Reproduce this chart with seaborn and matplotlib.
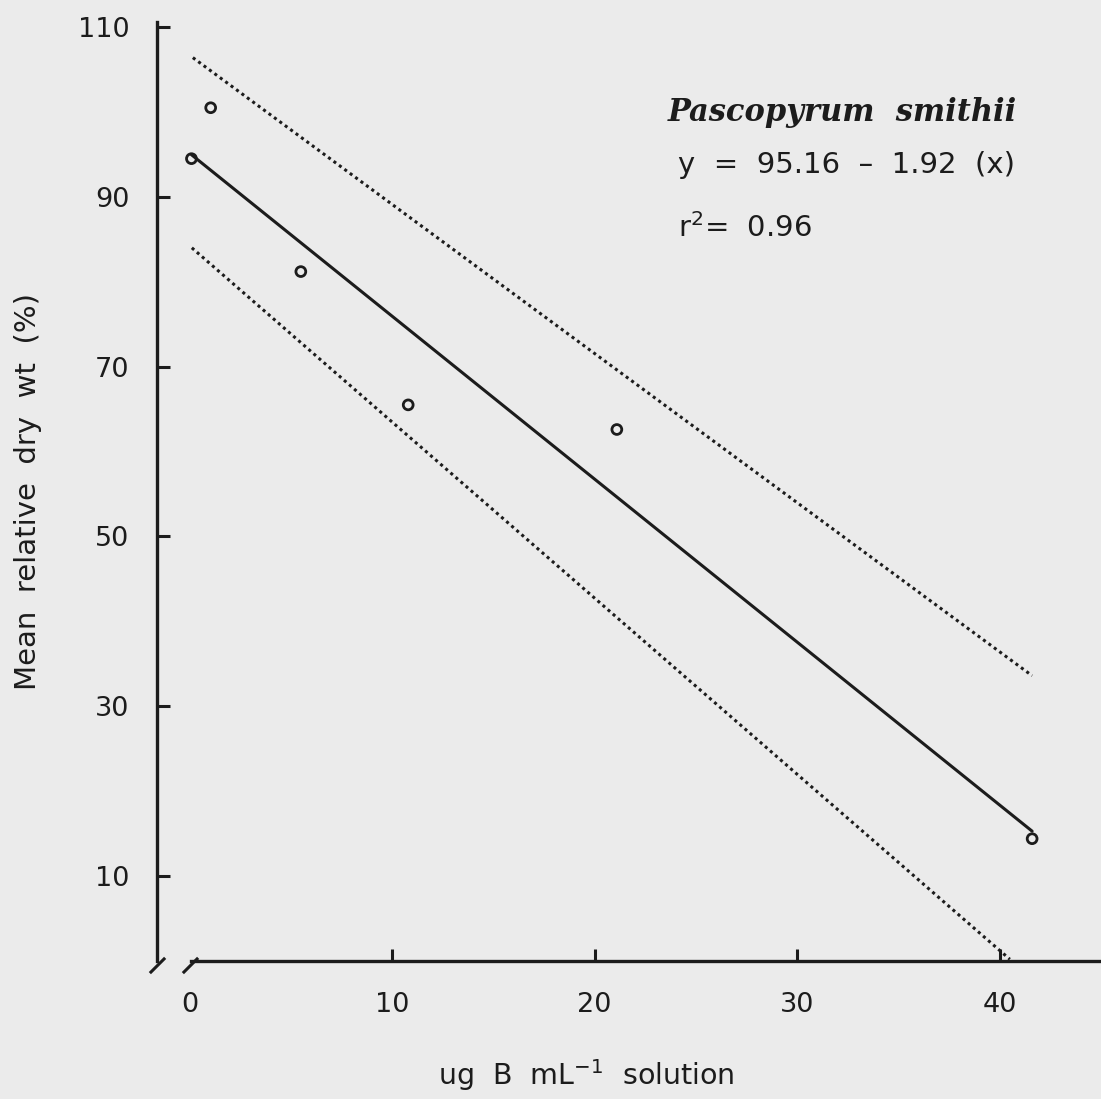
import numpy as np
import pandas as pd
import matplotlib
matplotlib.use("Agg")
import matplotlib.pyplot as plt
import seaborn as sns

# ---- data ----
boron = [0.1, 1.05, 5.5, 10.8, 21.1, 41.6]          # ug B mL-1 solution
rel_dry_wt = [94.5, 100.5, 81.2, 65.5, 62.6, 14.4]  # mean relative dry wt (%)

intercept = 95.16
slope = -1.92

upper_x = [0.17, 41.6]
upper_y = [106.4, 33.6]
lower_x = [0.12, 40.5]
lower_y = [84.0, 0.2]

x_ticks = [0, 10, 20, 30, 40]
y_ticks = [10, 30, 50, 70, 90, 110]

species = "Pascopyrum  smithii"
equation = "y  =  95.16  \u2013  1.92  (x)"
r2_text = r"r$^{2}$=  0.96"

# ---- style ----
sns.set_theme(style="ticks")
bg = "#ebebeb"
ink = "#1c1c1c"
plt.rcParams["font.family"] = ["DejaVu Sans"]
plt.rcParams["mathtext.fontset"] = "dejavusans"

fig = plt.figure(figsize=(11.01, 10.99), dpi=100, facecolor=bg)
ax = fig.add_axes([0.1426, 0.1256, 0.8574, 0.8544])
ax.set_facecolor(bg)

fit_x = np.array([min(boron), max(boron)])
fit_df = pd.DataFrame({"x": fit_x, "y": intercept + slope * fit_x})
up_df = pd.DataFrame({"x": upper_x, "y": upper_y})
lo_df = pd.DataFrame({"x": lower_x, "y": lower_y})
pts = pd.DataFrame({"x": boron, "y": rel_dry_wt})

sns.lineplot(data=fit_df, x="x", y="y", ax=ax, color=ink, linewidth=2.2)
sns.lineplot(data=up_df, x="x", y="y", ax=ax, color=ink, linewidth=2.2,
             linestyle=(0, (1, 1.2)))
sns.lineplot(data=lo_df, x="x", y="y", ax=ax, color=ink, linewidth=2.2,
             linestyle=(0, (1, 1.2)))
sns.scatterplot(data=pts, x="x", y="y", ax=ax, marker="o", s=50,
                facecolor="none", edgecolor=ink, linewidth=2.0, zorder=5)

ax.set_xlim(-1.6, 45.0)
ax.set_ylim(0, 110.6)

for side in ["top", "right"]:
    ax.spines[side].set_visible(False)
for side in ["left", "bottom"]:
    ax.spines[side].set_linewidth(2.4)
    ax.spines[side].set_color(ink)
ax.spines["bottom"].set_bounds(0.1, 45.0)

ax.set_xticks(x_ticks)
ax.set_yticks(y_ticks)
ax.set_xticklabels([str(v) for v in x_ticks])
ax.set_yticklabels([str(v) for v in y_ticks])
ax.tick_params(axis="both", direction="in", length=9, width=2.2, color=ink,
               labelsize=19.5, labelcolor=ink)
ax.tick_params(axis="x", pad=22)
ax.tick_params(axis="y", pad=20)
ax.xaxis.get_major_ticks()[0].tick1line.set_visible(False)

# axis-break slashes
brk = dict(marker=[(-1, -1), (1, 1)], markersize=11, linestyle="none",
           color=ink, mec=ink, mew=2.2, clip_on=False)
ax.plot([0.0], [-0.004], transform=ax.transAxes, **brk)
ax.plot([(0 - (-1.6)) / 46.6 + 0.001], [-0.004], transform=ax.transAxes, **brk)

ax.set_xlabel(r"ug  B  mL$^{-1}$  solution", fontsize=20.5, color=ink)
ax.set_ylabel("Mean  relative  dry  wt  (%)", fontsize=21, color=ink)
ax.xaxis.set_label_coords(0.455, -0.132)
ax.xaxis.label.set_va("baseline")
ax.yaxis.set_label_coords(-0.137, 0.5)
ax.yaxis.label.set_va("center")

ax.text(0.541, 0.904, species, transform=ax.transAxes, fontsize=22,
        family="DejaVu Serif", style="italic", weight="bold", color=ink,
        ha="left", va="center")
ax.text(0.552, 0.848, equation, transform=ax.transAxes, fontsize=21,
        color=ink, ha="left", va="center")
ax.text(0.552, 0.781, r2_text, transform=ax.transAxes, fontsize=21,
        color=ink, ha="left", va="center")

fig.savefig("out.png", dpi=100, facecolor=bg)
